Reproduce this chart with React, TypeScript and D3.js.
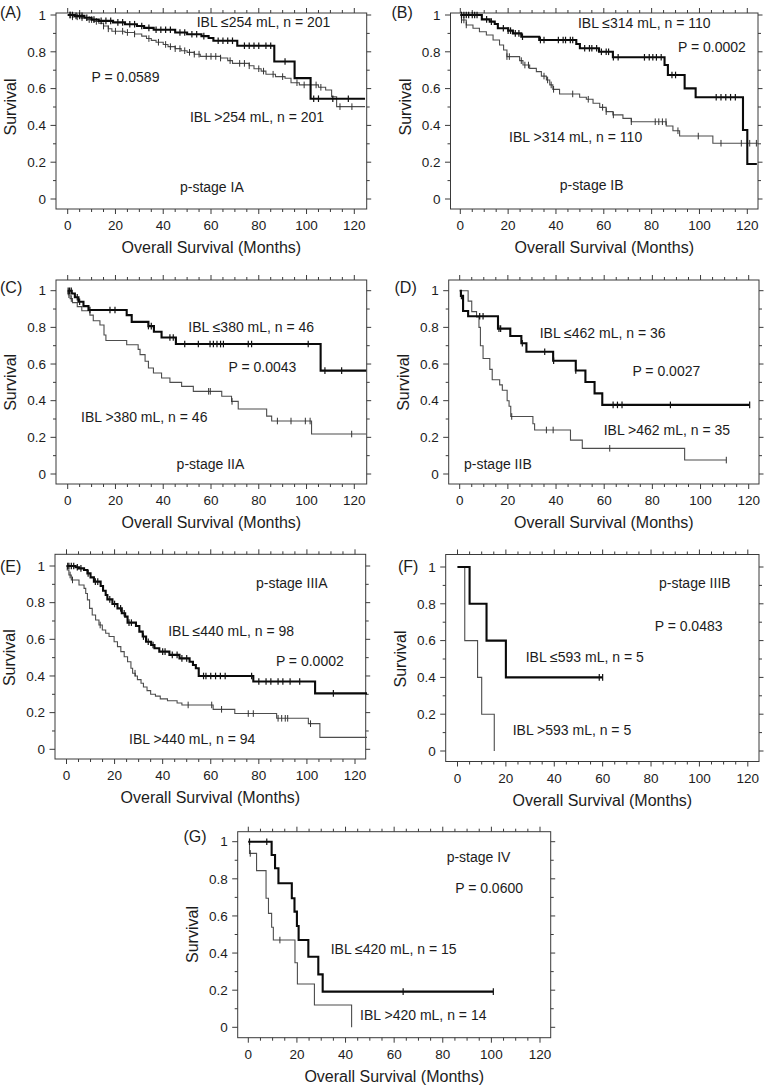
import React from "react";
import * as d3 from "d3";

type Pt = [number, number];

// ---------------- DATA ----------------
const xTickValues = [0, 20, 40, 60, 80, 100, 120];
const yTickValues = [0, 0.2, 0.4, 0.6, 0.8, 1];
const yTickLabels = ["0", "0.2", "0.4", "0.6", "0.8", "1"];

// (A) p-stage IA
const A_lowSteps: Pt[] = [[3, 0.995], [7, 0.985], [10, 0.975], [13, 0.968], [19, 0.96], [24, 0.95], [29, 0.94], [32, 0.93], [36, 0.92], [45, 0.905], [50, 0.895], [56, 0.885], [59, 0.875], [61, 0.86], [71, 0.833], [86.5, 0.747], [95, 0.657], [101.7, 0.545]];
const A_lowCensor = [1, 2, 3.5, 5, 6, 8, 11, 14, 16, 18, 21, 23, 26, 28, 31, 34, 37, 39, 41, 43, 47, 49, 52, 54, 57, 63, 65, 67, 69, 74, 76, 78, 80, 83, 85, 91, 103, 105, 111, 117.5];
const A_highSteps: Pt[] = [[2, 0.99], [5, 0.985], [8, 0.975], [11, 0.965], [13, 0.955], [15, 0.94], [17, 0.925], [18.5, 0.912], [24, 0.905], [28, 0.897], [31, 0.885], [33, 0.872], [35, 0.862], [37, 0.852], [40, 0.84], [42, 0.828], [45, 0.817], [47.5, 0.806], [50, 0.797], [53, 0.787], [55.5, 0.775], [64, 0.766], [67, 0.752], [69, 0.737], [76, 0.724], [78, 0.708], [81, 0.695], [83, 0.678], [87, 0.665], [91, 0.656], [93.5, 0.632], [97, 0.62], [105, 0.607], [108, 0.592], [110.5, 0.556], [112.6, 0.502]];
const A_highCensor = [1, 2, 4, 6, 9, 10, 12, 15, 17, 20, 23, 25, 28, 34, 38, 41, 43, 45, 47, 49, 51, 53, 55, 58, 60, 62, 64, 68, 72, 74, 76, 80, 82, 86, 90, 96, 99, 104, 106, 114, 119];

// (B) p-stage IB
const B_lowSteps: Pt[] = [[9, 0.976], [12.3, 0.964], [14.4, 0.951], [15.7, 0.928], [20, 0.915], [22, 0.9], [25.5, 0.882], [33, 0.864], [48.5, 0.842], [50, 0.819], [58, 0.8], [63.8, 0.77], [85.4, 0.728], [86.8, 0.674], [93.8, 0.601], [98.4, 0.553], [118.2, 0.375], [120, 0.19]];
const B_lowCensor = [0.5, 1.5, 2.5, 3.5, 5, 6, 7, 11, 13, 18, 20, 21, 23, 24.5, 26, 33.5, 35, 41, 43, 44, 46, 47, 52, 54, 55, 57, 59, 61, 62, 64, 66, 77, 79, 80.5, 82, 84, 88.5, 90, 107, 109, 111, 113, 115];
const B_highSteps: Pt[] = [[0.5, 0.973], [2.5, 0.946], [5.3, 0.928], [8, 0.909], [10.9, 0.891], [13.7, 0.864], [16.4, 0.837], [18.1, 0.81], [19.5, 0.774], [24.8, 0.752], [26.2, 0.728], [29, 0.71], [31.8, 0.692], [33.9, 0.668], [36, 0.647], [37.4, 0.62], [38.7, 0.596], [41.5, 0.571], [49.9, 0.553], [52.7, 0.542], [55.5, 0.52], [58.3, 0.498], [61, 0.475], [63.8, 0.457], [68, 0.438], [71.5, 0.42], [86.1, 0.397], [88.9, 0.371], [91.7, 0.342], [105.6, 0.303]];
const B_highCensor = [0.5, 1.5, 2.5, 19.5, 20.5, 25.5, 27, 28.5, 35, 36.5, 38, 39, 47, 53.5, 59.5, 61, 64, 71.5, 81.5, 83, 84.5, 86, 91, 99.5, 109, 117.5, 121, 123.8];

// (C) p-stage IIA
const C_lowSteps: Pt[] = [[1.7, 0.985], [3, 0.964], [4.5, 0.94], [6.6, 0.916], [8.7, 0.895], [24.7, 0.867], [26.8, 0.83], [33.8, 0.807], [36.1, 0.776], [39.3, 0.745], [45.3, 0.709], [105.9, 0.564]];
const C_lowCensor = [0.2, 0.8, 1.5, 4, 5, 9.3, 17.7, 19.8, 33.8, 35, 42.8, 44.2, 49, 54.7, 59.6, 61, 62.5, 64, 65.2, 75.6, 77, 100.7, 107.7, 114.7];
const C_highSteps: Pt[] = [[0.2, 0.978], [1, 0.957], [2, 0.935], [4, 0.913], [5.9, 0.891], [9.3, 0.867], [10.7, 0.836], [13.5, 0.813], [15.2, 0.758], [16, 0.728], [24.7, 0.705], [29.5, 0.68], [30.3, 0.651], [32.4, 0.615], [33.8, 0.578], [35.9, 0.551], [39.3, 0.524], [42.8, 0.5], [47.7, 0.478], [52.6, 0.451], [64.5, 0.424], [68.6, 0.396], [71.4, 0.355], [83.3, 0.316], [85.4, 0.289], [102.1, 0.218]];
const C_highCensor = [0.5, 1.5, 59, 59.7, 68.8, 87.8, 93.5, 99.5, 101.5, 118.9];

// (D) p-stage IIB
const D_lowSteps: Pt[] = [[0.5, 0.972], [1.4, 0.889], [3.5, 0.861], [15.9, 0.793], [21, 0.753], [25.6, 0.713], [27.7, 0.667], [38.8, 0.618], [48.2, 0.565], [52.2, 0.502], [56, 0.44], [59.2, 0.377]];
const D_lowCensor = [0.7, 8.3, 9.7, 16.3, 17, 26, 35.3, 39, 48.2, 63.7, 65.5, 67.4, 87.5, 120.4];
const D_highSteps: Pt[] = [[3.5, 0.943], [5, 0.886], [7, 0.857], [8, 0.8], [8.6, 0.7], [9.7, 0.63], [12.5, 0.571], [13.5, 0.514], [16.6, 0.486], [17.7, 0.457], [19.7, 0.4], [20.5, 0.37], [21.2, 0.314], [30.4, 0.274], [31.1, 0.24], [46, 0.185], [50.9, 0.14], [93.4, 0.076]];
const D_highCensor = [21.6, 36, 38.8, 62.3, 110.7];

// (E) p-stage IIIA
const E_lowSteps: Pt[] = [[3.8, 0.993], [5.2, 0.987], [7.3, 0.978], [8.7, 0.96], [10, 0.938], [11.4, 0.915], [14.2, 0.891], [15.2, 0.865], [16.3, 0.842], [17, 0.818], [19.1, 0.793], [21.2, 0.769], [23, 0.742], [24.4, 0.724], [25.4, 0.691], [28.9, 0.673], [30.3, 0.642], [31.7, 0.615], [33.1, 0.587], [35.2, 0.569], [36.6, 0.551], [38.6, 0.533], [42.8, 0.515], [47, 0.496], [51.2, 0.478], [52.6, 0.46], [53.8, 0.442], [55, 0.4], [77.7, 0.37], [103.4, 0.305]];
const E_lowCensor = [0.5, 1, 2, 3, 4.5, 6, 9, 12, 13, 18, 20, 22.5, 24, 26, 27, 32, 34, 36, 40, 41, 44, 46, 48, 50, 57, 58, 60, 62, 64, 66, 77, 80, 83, 85, 88, 90, 93, 97, 111];
const E_highSteps: Pt[] = [[0.3, 0.978], [1, 0.951], [2, 0.924], [5.2, 0.896], [7.3, 0.878], [8, 0.85], [8.7, 0.815], [9.6, 0.769], [10.7, 0.733], [12.1, 0.705], [13.5, 0.678], [14.9, 0.651], [16.3, 0.633], [17.7, 0.615], [19.8, 0.587], [21.2, 0.56], [22.6, 0.533], [24, 0.505], [25.4, 0.478], [26.8, 0.442], [27.5, 0.415], [28.6, 0.4], [29.5, 0.38], [31, 0.36], [32, 0.34], [33.5, 0.32], [35, 0.3], [37, 0.29], [39, 0.275], [42, 0.265], [46, 0.253], [48, 0.242], [61, 0.218], [70, 0.195], [87.4, 0.169], [100.6, 0.14], [105.4, 0.065]];
const E_highCensor = [1.5, 2.5, 14, 28.5, 50.6, 60.4, 64.5, 75.6, 77.7, 88, 89.5, 91, 92, 101.5];

// (F) p-stage IIIB
const F_lowSteps: Pt[] = [[5, 0.8], [12, 0.6], [20, 0.4]];
const F_lowCensor = [58.6, 60];
const F_highSteps: Pt[] = [[3, 0.6], [8.3, 0.4], [10, 0.2], [15.2, 0]];
const F_highCensor: number[] = [];

// (G) p-stage IV
const G_lowSteps: Pt[] = [[9.6, 0.928], [11, 0.857], [12.4, 0.776], [17.9, 0.695], [19, 0.623], [20, 0.546], [20.7, 0.47], [24.7, 0.38], [28.8, 0.285], [30.6, 0.192]];
const G_lowCensor = [0.5, 7.6, 63.7, 100.8];
const G_highSteps: Pt[] = [[0.5, 0.937], [3.4, 0.844], [7.3, 0.695], [8.3, 0.614], [9.6, 0.539], [10.3, 0.47], [19.2, 0.348], [20.2, 0.233], [27.2, 0.12], [42.5, 0]];
const G_highCensor = [0.8, 13];

const panelLetters = ["(A)", "(B)", "(C)", "(D)", "(E)", "(F)", "(G)"];
const stageLabels = ["p-stage IA", "p-stage IB", "p-stage IIA", "p-stage IIB", "p-stage IIIA", "p-stage IIIB", "p-stage IV"];
const pValues = ["P = 0.0589", "P = 0.0002", "P = 0.0043", "P = 0.0027", "P = 0.0002", "P = 0.0483", "P = 0.0600"];
const lowLabels = ["IBL \u2264254 mL, n = 201", "IBL \u2264314 mL, n = 110", "IBL \u2264380 mL, n = 46", "IBL \u2264462 mL, n = 36", "IBL \u2264440 mL, n = 98", "IBL \u2264593 mL, n = 5", "IBL \u2264420 mL, n = 15"];
const highLabels = ["IBL >254 mL, n = 201", "IBL >314 mL, n = 110", "IBL >380 mL, n = 46", "IBL >462 mL, n = 35", "IBL >440 mL, n = 94", "IBL >593 mL, n = 5", "IBL >420 mL, n = 14"];
const lowEnds = [124.5, 124, 125, 120.4, 125, 60, 100.8];
const highEnds = [124.5, 124.5, 125, 110.7, 125, 15.2, 42.5];

// ---------------- LAYOUT ----------------
interface Layout { x0: number; x120: number; y0: number; y1: number; L: number; R: number; T: number; B: number; lx: number; ly: number }
const layouts: Layout[] = [
  { x0: 67.7, x120: 354.3, y0: 199, y1: 15, L: 56, R: 366.7, T: 13, B: 209, lx: 0, ly: 12.5 },
  { x0: 460.3, x120: 747.3, y0: 199, y1: 15, L: 450.5, R: 758, T: 13, B: 209, lx: 391.5, ly: 12.5 },
  { x0: 67.7, x120: 354.3, y0: 474, y1: 290.7, L: 56, R: 366.7, T: 280, B: 484, lx: 0, ly: 287 },
  { x0: 459.7, x120: 748.7, y0: 474, y1: 290.7, L: 448.7, R: 759, T: 280, B: 484, lx: 394.5, ly: 287 },
  { x0: 66.5, x120: 355, y0: 749.3, y1: 566, L: 55, R: 365.7, T: 554.3, B: 759, lx: 0, ly: 566.5 },
  { x0: 457.5, x120: 747.8, y0: 751, y1: 567, L: 445.7, R: 759, T: 554.5, B: 761.5, lx: 398, ly: 566.5 },
  { x0: 248.3, x120: 540, y0: 1027.3, y1: 841.7, L: 237.7, R: 550.7, T: 831.7, B: 1037.7, lx: 183.5, ly: 836.5 },
];
// annotation anchors in data units [months, survival] (left edge, vertical centre)
const annot: { low: Pt; high: Pt; p: Pt; stage: Pt }[] = [
  { low: [54, 0.964], high: [51.2, 0.444], p: [10, 0.661], stage: [47, 0.067] },
  { low: [49.2, 0.955], high: [20.4, 0.335], p: [91, 0.828], stage: [41.6, 0.076] },
  { low: [50.5, 0.804], high: [5.6, 0.313], p: [67.3, 0.585], stage: [45.6, 0.055] },
  { low: [33.2, 0.768], high: [59.8, 0.24], p: [71.7, 0.562], stage: [1.8, 0.055] },
  { low: [42.3, 0.645], high: [26, 0.056], p: [87.1, 0.483], stage: [78.8, 0.909] },
  { low: [28.2, 0.513], high: [22.8, 0.114], p: [81.5, 0.679], stage: [83.3, 0.911] },
  { low: [33.9, 0.42], high: [46, 0.066], p: [85.1, 0.749], stage: [81.6, 0.919] },
];

const curvesLow = [
  { steps: A_lowSteps, censor: A_lowCensor }, { steps: B_lowSteps, censor: B_lowCensor },
  { steps: C_lowSteps, censor: C_lowCensor }, { steps: D_lowSteps, censor: D_lowCensor },
  { steps: E_lowSteps, censor: E_lowCensor }, { steps: F_lowSteps, censor: F_lowCensor },
  { steps: G_lowSteps, censor: G_lowCensor },
];
const curvesHigh = [
  { steps: A_highSteps, censor: A_highCensor }, { steps: B_highSteps, censor: B_highCensor },
  { steps: C_highSteps, censor: C_highCensor }, { steps: D_highSteps, censor: D_highCensor },
  { steps: E_highSteps, censor: E_highCensor }, { steps: F_highSteps, censor: F_highCensor },
  { steps: G_highSteps, censor: G_highCensor },
];

const FONT = "'Liberation Sans', Arial, Helvetica, sans-serif";
const TXT = "#1c1c1c";

function survivalAt(steps: Pt[], t: number): number {
  let s = 1;
  for (const [ti, si] of steps) if (ti <= t) s = si;
  return s;
}

function Curve({ steps, censor, end, x, y, thick }: { steps: Pt[]; censor: number[]; end: number; x: any; y: any; thick: boolean }) {
  const last = steps.length ? steps[steps.length - 1][1] : 1;
  const pts: Pt[] = [[0, 1], ...steps, [end, last]];
  const line = d3.line<Pt>().x((d) => x(d[0])).y((d) => y(d[1])).curve(d3.curveStepAfter);
  const color = thick ? "#0a0a0a" : "#4d4d4d";
  return (
    <g>
      <path d={line(pts) || ""} fill="none" stroke={color} strokeWidth={thick ? 2.1 : 1.1} />
      {censor.map((t, i) => {
        const cx = x(t);
        const cy = y(survivalAt(steps, t));
        return <line key={i} x1={cx} x2={cx} y1={cy - 3.3} y2={cy + 3.3} stroke={thick ? "#111" : "#333"} strokeWidth={thick ? 1.2 : 1} />;
      })}
    </g>
  );
}

function Panel({ i }: { i: number }) {
  const lay = layouts[i];
  const x = d3.scaleLinear().domain([0, 120]).range([lay.x0, lay.x120]);
  const y = d3.scaleLinear().domain([0, 1]).range([lay.y0, lay.y1]);
  const xMinor = d3.range(0, 121, 5);
  const yMinor = d3.range(0, 11).map((v) => v / 10);
  const frame = "#3a3a3a";
  const a = annot[i];
  const ts = 14;
  return (
    <g>
      <rect x={lay.L} y={lay.T} width={lay.R - lay.L} height={lay.B - lay.T} fill="none" stroke={frame} strokeWidth={1} />
      {xMinor.map((t) => {
        const major = t % 20 === 0;
        const len = major ? 5 : 3;
        return (
          <g key={"xt" + t}>
            <line x1={x(t)} x2={x(t)} y1={lay.T} y2={lay.T - len} stroke={frame} />
            <line x1={x(t)} x2={x(t)} y1={lay.B} y2={lay.B + len} stroke={frame} />
          </g>
        );
      })}
      {yMinor.map((v, k) => {
        const major = k % 2 === 0;
        const len = major ? 5.5 : 3;
        return (
          <g key={"yt" + k}>
            <line x1={lay.L} x2={lay.L - len} y1={y(v)} y2={y(v)} stroke={frame} />
            <line x1={lay.R} x2={lay.R + (major ? 4.5 : 3)} y1={y(v)} y2={y(v)} stroke={frame} />
          </g>
        );
      })}
      {xTickValues.map((t) => (
        <text key={"xl" + t} x={x(t)} y={lay.B + 21} textAnchor="middle" fontSize={13.5} fontFamily={FONT} fill={TXT}>{t}</text>
      ))}
      {yTickValues.map((v, k) => (
        <text key={"yl" + k} x={lay.L - 10} y={y(v)} dy="0.35em" textAnchor="end" fontSize={13.5} fontFamily={FONT} fill={TXT}>{yTickLabels[k]}</text>
      ))}
      <text x={(lay.L + lay.R) / 2} y={lay.B + 44} textAnchor="middle" fontSize={16} fontFamily={FONT} fill={TXT}>Overall Survival (Months)</text>
      <text transform={`translate(${lay.L - 40},${y(0.5)}) rotate(-90)`} textAnchor="middle" fontSize={16} fontFamily={FONT} fill={TXT}>Survival</text>
      <text x={lay.lx} y={lay.ly} dy="0.35em" fontSize={16} fontFamily={FONT} fill={TXT}>{panelLetters[i]}</text>
      <Curve steps={curvesHigh[i].steps} censor={curvesHigh[i].censor} end={highEnds[i]} x={x} y={y} thick={false} />
      <Curve steps={curvesLow[i].steps} censor={curvesLow[i].censor} end={lowEnds[i]} x={x} y={y} thick={true} />
      <text x={x(a.low[0])} y={y(a.low[1])} dy="0.35em" fontSize={ts} fontFamily={FONT} fill={TXT}>{lowLabels[i]}</text>
      <text x={x(a.high[0])} y={y(a.high[1])} dy="0.35em" fontSize={ts} fontFamily={FONT} fill={TXT}>{highLabels[i]}</text>
      <text x={x(a.p[0])} y={y(a.p[1])} dy="0.35em" fontSize={ts} fontFamily={FONT} fill={TXT}>{pValues[i]}</text>
      <text x={x(a.stage[0])} y={y(a.stage[1])} dy="0.35em" fontSize={ts} fontFamily={FONT} fill={TXT}>{stageLabels[i]}</text>
    </g>
  );
}

export default function App() {
  return (
    <svg width={766} height={1086} style={{ position: "absolute", left: 0, top: 0, background: "#fff" }}>
      <rect width={766} height={1086} fill="#fff" />
      {layouts.map((_, i) => <Panel key={i} i={i} />)}
    </svg>
  );
}
